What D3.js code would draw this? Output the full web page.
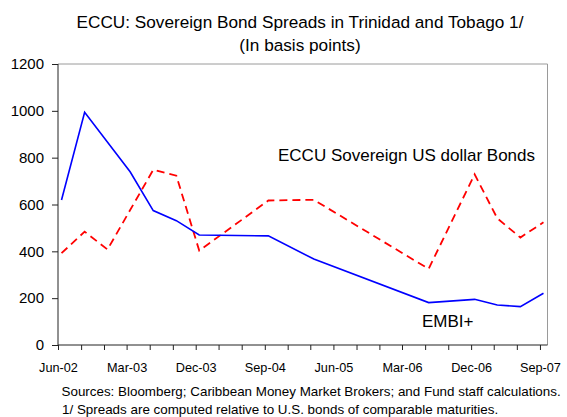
<!DOCTYPE html>
<html>
<head>
<meta charset="utf-8">
<script src="https://cdn.jsdelivr.net/npm/d3@7"></script>
<style>
  body { margin: 0; background: #fff; }
  svg { font-family: "Liberation Sans", Arial, sans-serif; }
</style>
</head>
<body>
<div id="chart"></div>
<script>
'use strict';

// observation dates (mid-month) and spreads in basis points
var embi_dates = ['2002-06-15', '2002-09-15', '2003-03-15', '2003-06-15', '2003-09-15', '2003-12-15',
                  '2004-09-15', '2005-03-15', '2006-06-15', '2006-12-15', '2007-03-15', '2007-06-15', '2007-09-15'];
var embi_values = [619, 994, 740, 574, 531, 470, 466, 367, 181, 195, 171, 164, 221];

var eccu_dates = ['2002-06-15', '2002-09-15', '2002-12-15', '2003-06-15', '2003-09-15', '2003-12-15',
                  '2004-09-15', '2005-03-15', '2006-06-15', '2006-12-15', '2007-03-15', '2007-06-15', '2007-09-15'];
var eccu_values = [392, 484, 408, 748, 723, 403, 617, 620, 325, 729, 541, 459, 524];

var y_ticks = [0, 200, 400, 600, 800, 1000, 1200];
var x_labels = ['Jun-02', 'Mar-03', 'Dec-03', 'Sep-04', 'Jun-05', 'Mar-06', 'Dec-06', 'Sep-07'];

window.addEventListener('load', function () {
    var width = 567,
        height = 417,
        margin = {top: 64, right: 19.5, bottom: 72, left: 58},
        parse = d3.timeParse('%Y-%m-%d'),
        fmt = d3.timeFormat('%b-%y');

    var svg = d3.select('#chart').append('svg')
        .attr('width', width)
        .attr('height', height);

    var x = d3.scaleTime()
        .domain([new Date(2002, 5, 1), new Date(2007, 9, 1)])
        .range([margin.left, width - margin.right]);

    var y = d3.scaleLinear()
        .domain([0, 1200])
        .range([height - margin.bottom, margin.top]);

    // plot frame (top and right in light gray)
    svg.append('path')
        .attr('d', 'M' + x.range()[0] + ',' + y(1200) + 'H' + x.range()[1] + 'V' + y(0))
        .attr('fill', 'none')
        .attr('stroke', '#9a9a9a')
        .attr('stroke-width', 1);

    // quarterly ticks starting Jun-02, labelled every third one
    var quarter_ticks = d3.timeMonth.range(new Date(2002, 5, 1), new Date(2007, 9, 2), 3);

    var x_axis = d3.axisBottom(x)
        .tickValues(quarter_ticks)
        .tickSize(5)
        .tickPadding(13)
        .tickFormat(function (d) {
            var label = fmt(d);
            return x_labels.indexOf(label) >= 0 ? label : '';
        });

    var gx = svg.append('g')
        .attr('transform', 'translate(0,' + y(0) + ')')
        .call(x_axis);
    gx.select('.domain').attr('stroke', '#222').attr('d', 'M' + x.range()[0] + ',0H' + x.range()[1]);
    gx.selectAll('.tick line').attr('stroke', '#222');
    gx.selectAll('.tick text')
        .attr('font-size', 12.7)
        .attr('fill', '#000');

    var y_axis = d3.axisLeft(y)
        .tickValues(y_ticks)
        .tickSize(6)
        .tickPadding(8)
        .tickFormat(d3.format('d'));

    var gy = svg.append('g')
        .attr('transform', 'translate(' + margin.left + ',0)')
        .call(y_axis);
    gy.select('.domain').attr('stroke', '#222').attr('d', 'M0,' + y(1200) + 'V' + y(0));
    gy.selectAll('.tick line').attr('stroke', '#222');
    gy.selectAll('.tick text')
        .attr('font-size', 15)
        .attr('fill', '#000');

    var line = d3.line()
        .x(function (d) { return x(d.date); })
        .y(function (d) { return y(d.value); });

    var embi = embi_dates.map(function (d, i) { return {date: parse(d), value: embi_values[i]}; });
    var eccu = eccu_dates.map(function (d, i) { return {date: parse(d), value: eccu_values[i]}; });

    svg.append('path')
        .datum(eccu)
        .attr('d', line)
        .attr('fill', 'none')
        .attr('stroke', '#ff0000')
        .attr('stroke-width', 1.8)
        .attr('stroke-dasharray', '8,5');

    svg.append('path')
        .datum(embi)
        .attr('d', line)
        .attr('fill', 'none')
        .attr('stroke', '#0000ff')
        .attr('stroke-width', 1.6);

    // series labels
    svg.append('text')
        .attr('x', 278).attr('y', 161)
        .attr('font-size', 17)
        .text('ECCU Sovereign US dollar Bonds');

    svg.append('text')
        .attr('x', 422).attr('y', 327)
        .attr('font-size', 17)
        .text('EMBI+');

    // titles
    svg.append('text')
        .attr('x', 300).attr('y', 28)
        .attr('text-anchor', 'middle')
        .attr('font-size', 17.2)
        .text('ECCU: Sovereign Bond Spreads in Trinidad and Tobago 1/');

    svg.append('text')
        .attr('x', 300).attr('y', 51)
        .attr('text-anchor', 'middle')
        .attr('font-size', 17.2)
        .text('(In basis points)');

    // notes
    svg.append('text')
        .attr('x', 61.5).attr('y', 395.5)
        .attr('font-size', 13.4)
        .text('Sources: Bloomberg; Caribbean Money Market Brokers; and Fund staff calculations.');

    svg.append('text')
        .attr('x', 62).attr('y', 413.5)
        .attr('font-size', 13.4)
        .text('1/ Spreads are computed relative to U.S. bonds of comparable maturities.');
});
</script>
</body>
</html>
